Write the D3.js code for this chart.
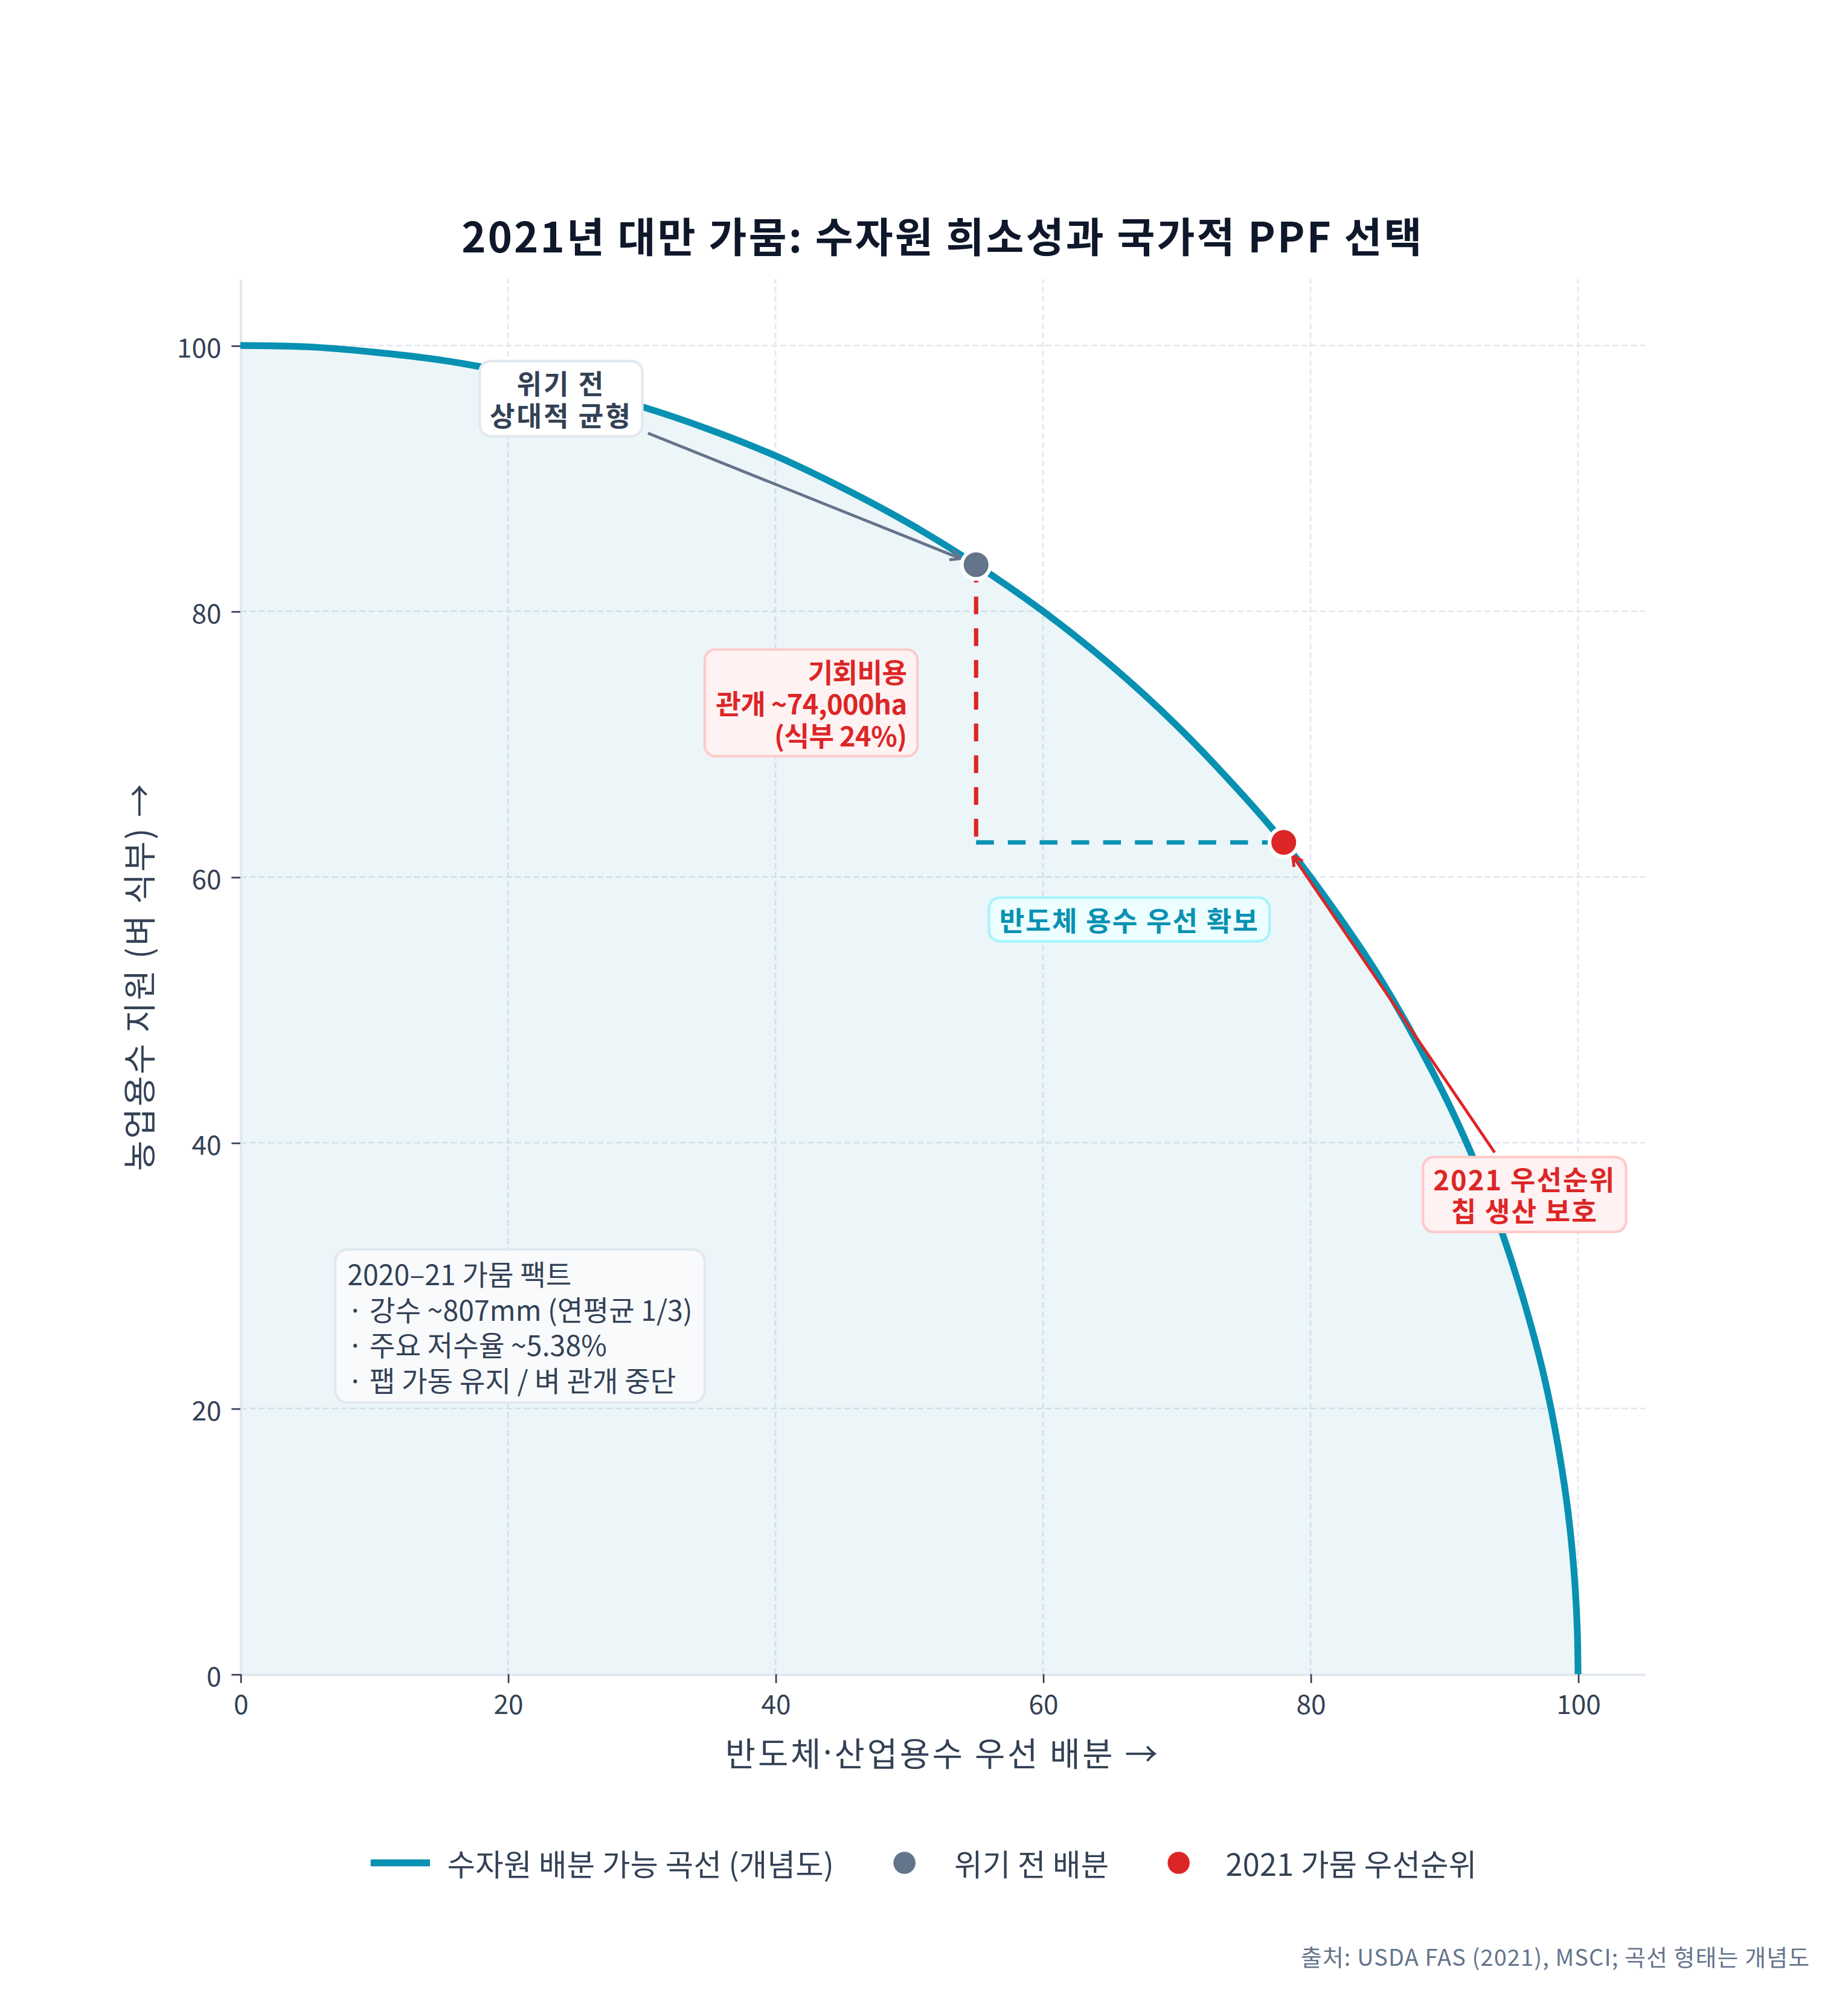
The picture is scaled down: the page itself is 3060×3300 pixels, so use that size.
<!DOCTYPE html>
<html><head><meta charset="utf-8">
<script src="https://cdn.jsdelivr.net/npm/d3@7"></script>
<style>
html,body{margin:0;padding:0;background:#fff;}
svg{display:block;}
text{font-family:"Noto Sans CJK KR","Noto Sans",sans-serif;}
</style>
</head><body><div id="chart"></div>
<script>
// ---------- data ----------
const frontierX = [0,5,10,15,20,25,30,35,40,45,50,55,60,65,70,75,78,80,85,90,93,95,97,98,99,99.5,99.8,99.95,100];
const frontierY = [100,99.9,99.5,98.9,98.0,96.8,95.4,93.7,91.7,89.3,86.6,83.5,80.0,76.0,71.4,66.1,62.6,60.0,52.7,43.6,36.8,31.2,24.3,19.9,14.1,10.0,6.3,3.2,0];
const pointNames = ['위기 전 배분','2021 가뭄 우선순위'];
const pointX = [55,78];
const pointY = [83.5,62.6];
const xTicks = [0,20,40,60,80,100];
const yTicks = [0,20,40,60,80,100];
const titleText = '2021년 대만 가뭄: 수자원 희소성과 국가적 PPF 선택';
const xLabelParts = ['반도체','·','산업용수 우선 배분 →'];
const yLabel = '농업용수 지원 (벼 식부) →';
const frontierName = '수자원 배분 가능 곡선 (개념도)';
const preLabel = ['위기 전','상대적 균형'];
const costLabel = ['기회비용','관개 ~74,000ha','(식부 24%)'];
const semiLabel = ['반도체 용수 우선 확보'];
const priorityLabel = ['2021 우선순위','칩 생산 보호'];
const factLines = ['2020–21 가뭄 팩트','· 강수 ~807mm (연평균 1/3)','· 주요 저수율 ~5.38%','· 팹 가동 유지 / 벼 관개 중단'];
const sourceText = '출처: USDA FAS (2021), MSCI; 곡선 형태는 개념도';

// ---------- layout ----------
const K = 2.104;
const W = 3060/K, H = 3300/K;
const TEAL = '#0891b2', GREY = '#64748b', RED = '#dc2626', INK = '#334155';

const svg = d3.select('#chart').append('svg')
  .attr('width',3060).attr('height',3300)
  .attr('viewBox',`0 0 ${W} ${H}`);
svg.append('rect').attr('width',W).attr('height',H).attr('fill','#fff');

const x = d3.scaleLinear().domain([0,105]).range([189.2, 189.2+105*10.527]);
const y = d3.scaleLinear().domain([0,105]).range([1317.5, 1317.5-105*10.456]);

const defs = svg.append('defs');
function arrowMarker(id,color){
  defs.append('marker').attr('id',id).attr('viewBox','-10 -6 12 12')
    .attr('refX',0).attr('refY',0).attr('markerWidth',12).attr('markerHeight',12)
    .attr('markerUnits','userSpaceOnUse').attr('orient','auto')
    .append('path').attr('d','M-8,-4.2 L0,0 L-8,4.2').attr('fill','none')
    .attr('stroke',color).attr('stroke-width',2.3).attr('stroke-linejoin','miter');
}
arrowMarker('arGrey',GREY); arrowMarker('arRed',RED);

// grid
const grid = svg.append('g');
grid.selectAll('line.gx').data(xTicks.filter(d=>d>0)).join('line')
  .attr('x1',d=>x(d)).attr('x2',d=>x(d)).attr('y1',y(0)).attr('y2',y(105))
  .attr('stroke','#e2e8f0').attr('stroke-width',1.3).attr('stroke-dasharray','4.8,2.4');
grid.selectAll('line.gy').data(yTicks.filter(d=>d>0)).join('line')
  .attr('y1',d=>y(d)).attr('y2',d=>y(d)).attr('x1',x(0)).attr('x2',x(105))
  .attr('stroke','#e2e8f0').attr('stroke-width',1.3).attr('stroke-dasharray','4.8,2.4');

// frontier data
const frontier = frontierX.map((v,i)=>({x:v,y:frontierY[i]}));
const curve = d3.curveCatmullRom.alpha(0.5);
const area = d3.area().x(d=>x(d.x)).y0(y(0)).y1(d=>y(d.y)).curve(curve);
svg.append('path').datum(frontier).attr('d',area).attr('fill',TEAL).attr('fill-opacity',0.08);

// axes
const axL = svg.append('g').attr('transform',`translate(${x(0)},0)`)
  .call(d3.axisLeft(y).tickValues(yTicks).tickSize(7).tickSizeOuter(0).tickPadding(8));
const axB = svg.append('g').attr('transform',`translate(0,${y(0)})`)
  .call(d3.axisBottom(x).tickValues(xTicks).tickSize(7).tickSizeOuter(0).tickPadding(8));
[axL,axB].forEach(a=>{
  a.select('.domain').attr('stroke','#e2e8f0').attr('stroke-width',2);
  a.selectAll('.tick line').attr('stroke',INK).attr('stroke-width',1.3);
  a.selectAll('.tick text').attr('fill',INK).attr('font-size',21)
    .attr('font-family','"Noto Sans CJK KR","Noto Sans",sans-serif');
});
axL.selectAll('.tick text').attr('dy',null).attr('dominant-baseline','central');
axB.selectAll('.tick text').attr('dy',null).attr('y',22.5).attr('dominant-baseline','central');

// frontier line
const line = d3.line().x(d=>x(d.x)).y(d=>y(d.y)).curve(curve);
svg.append('path').datum(frontier).attr('d',line).attr('fill','none')
  .attr('stroke',TEAL).attr('stroke-width',5.3);

// dashed guides
const p0 = {x:pointX[0],y:pointY[0]}, p1 = {x:pointX[1],y:pointY[1]};
svg.append('line').attr('x1',x(p0.x)).attr('x2',x(p0.x)).attr('y1',y(p0.y)).attr('y2',y(p1.y))
  .attr('stroke',RED).attr('stroke-width',3.4).attr('stroke-dasharray','14,11');
svg.append('line').attr('x1',x(p0.x)).attr('x2',x(p1.x)).attr('y1',y(p1.y)).attr('y2',y(p1.y))
  .attr('stroke',TEAL).attr('stroke-width',3.4).attr('stroke-dasharray','14,11');

// arrows
function arrow(tx,ty,px,py,color,marker,gap){
  const x1=x(tx), y1=y(ty), cx=x(px), cy=y(py);
  const dx=cx-x1, dy=cy-y1, L=Math.hypot(dx,dy);
  svg.append('line').attr('x1',x1).attr('y1',y1)
    .attr('x2',cx-dx/L*gap).attr('y2',cy-dy/L*gap)
    .attr('stroke',color).attr('stroke-width',2.3).attr('marker-end',`url(#${marker})`);
}
arrow(30.47,93.4,p0.x,p0.y,GREY,'arGrey',13);
arrow(93.77,39.26,p1.x,p1.y,RED,'arRed',12.5);

// label boxes
function labelBox(o){
  const g = svg.append('g');
  const n = o.lines.length;
  const t = g.append('text').attr('font-size',o.fs).attr('font-weight',o.weight||'normal')
    .attr('fill',o.color).attr('text-anchor',o.anchor).attr('letter-spacing',o.ls||0);
  o.lines.forEach((s,i)=>{
    t.append('tspan').attr('x',o.tx).attr('y',o.cy+(i-(n-1)/2)*o.lh)
      .attr('dominant-baseline','central').text(s);
  });
  let maxW = 0;
  t.selectAll('tspan').each(function(){maxW=Math.max(maxW,this.getComputedTextLength()-(o.ls||0));});
  let left;
  if(o.anchor==='middle') left = o.tx - maxW/2;
  else if(o.anchor==='end') left = o.tx - maxW;
  else left = o.tx;
  const bw = maxW + 2*o.pad;
  const bh = (n-1)*o.lh + 0.8*o.fs + 2*o.pad;
  g.insert('rect','text').attr('x',left-o.pad).attr('y',o.cy-bh/2).attr('width',bw).attr('height',bh)
    .attr('rx',o.pad).attr('ry',o.pad).attr('fill',o.fill).attr('stroke',o.stroke).attr('stroke-width',2);
}
labelBox({lines:preLabel, tx:x(23.97), cy:y(96.0), fs:21.5, lh:24.8, weight:'bold', ls:1.4,
  color:INK, fill:'#ffffff', stroke:'#e2e8f0', anchor:'middle', pad:8.6});
labelBox({lines:costLabel, tx:x(49.82), cy:y(73.1), fs:21.5, lh:25, weight:'bold', ls:-0.3,
  color:RED, fill:'#fef2f2', stroke:'#fecaca', anchor:'end', pad:8.4});
labelBox({lines:semiLabel, tx:x(66.45), cy:y(56.8), fs:21.5, lh:25, weight:'bold', ls:1.0,
  color:TEAL, fill:'#ecfeff', stroke:'#a5f3fc', anchor:'middle', pad:8.6});
labelBox({lines:priorityLabel, tx:x(96.0), cy:y(36.1), fs:21.5, lh:24.6, weight:'bold', ls:1.0,
  color:RED, fill:'#fef2f2', stroke:'#fecaca', anchor:'middle', pad:8.6});
labelBox({lines:factLines, tx:x(8.0), cy:y(26.2), fs:22, lh:27.9, weight:'normal', ls:0.05,
  color:INK, fill:'#f8fafc', stroke:'#e2e8f0', anchor:'start', pad:9.6});

// points
const pts = [p0,p1];
svg.selectAll('circle.pt').data(pts).join('circle')
  .attr('cx',d=>x(d.x)).attr('cy',d=>y(d.y)).attr('r',11.2)
  .attr('fill',(d,i)=>i===0?GREY:RED).attr('stroke','#fff').attr('stroke-width',2.9);

// title & axis labels
svg.append('text').attr('x',(x(0)+x(105))/2).attr('y',184.5).attr('text-anchor','middle')
  .attr('dominant-baseline','central').attr('font-size',32.5).attr('font-weight','bold')
  .attr('letter-spacing',1.5).attr('fill','#0f172a').text(titleText);
const xl = svg.append('text').attr('x',(x(0)+x(105))/2).attr('y',1378.5).attr('text-anchor','middle')
  .attr('dominant-baseline','central').attr('font-size',26).attr('letter-spacing',1.8).attr('fill',INK);
xl.append('tspan').text(xLabelParts[0]);
xl.append('tspan').attr('font-family','"Noto Sans",sans-serif').text(xLabelParts[1]);
xl.append('tspan').text(xLabelParts[2]);
svg.append('text').attr('transform',`translate(108,${(y(0)+y(105))/2}) rotate(-90)`)
  .attr('text-anchor','middle').attr('dominant-baseline','central').attr('letter-spacing',1.5)
  .attr('font-size',26).attr('fill',INK).text(yLabel);

// legend
const lg = svg.append('g');
const LY = 1466;
lg.append('line').attr('x1',291.7).attr('x2',338.4).attr('y1',LY).attr('y2',LY)
  .attr('stroke',TEAL).attr('stroke-width',5.5);
const legendItems = [
  {tx:352, text:frontierName},
  {tx:751, text:pointNames[0], cx:711.8, color:GREY},
  {tx:964.6, text:pointNames[1], cx:927.6, color:RED}
];
legendItems.forEach(it=>{
  if(it.cx) lg.append('circle').attr('cx',it.cx).attr('cy',LY).attr('r',8.7).attr('fill',it.color);
  lg.append('text').attr('x',it.tx).attr('y',LY).attr('dominant-baseline','central')
    .attr('font-size',24).attr('letter-spacing',0.1).attr('fill',INK).text(it.text);
});

// source
svg.append('text').attr('x',1424.5).attr('y',1539).attr('text-anchor','end')
  .attr('dominant-baseline','central').attr('font-size',18).attr('letter-spacing',0.55)
  .attr('fill',GREY).text(sourceText);
</script>
</body></html>
